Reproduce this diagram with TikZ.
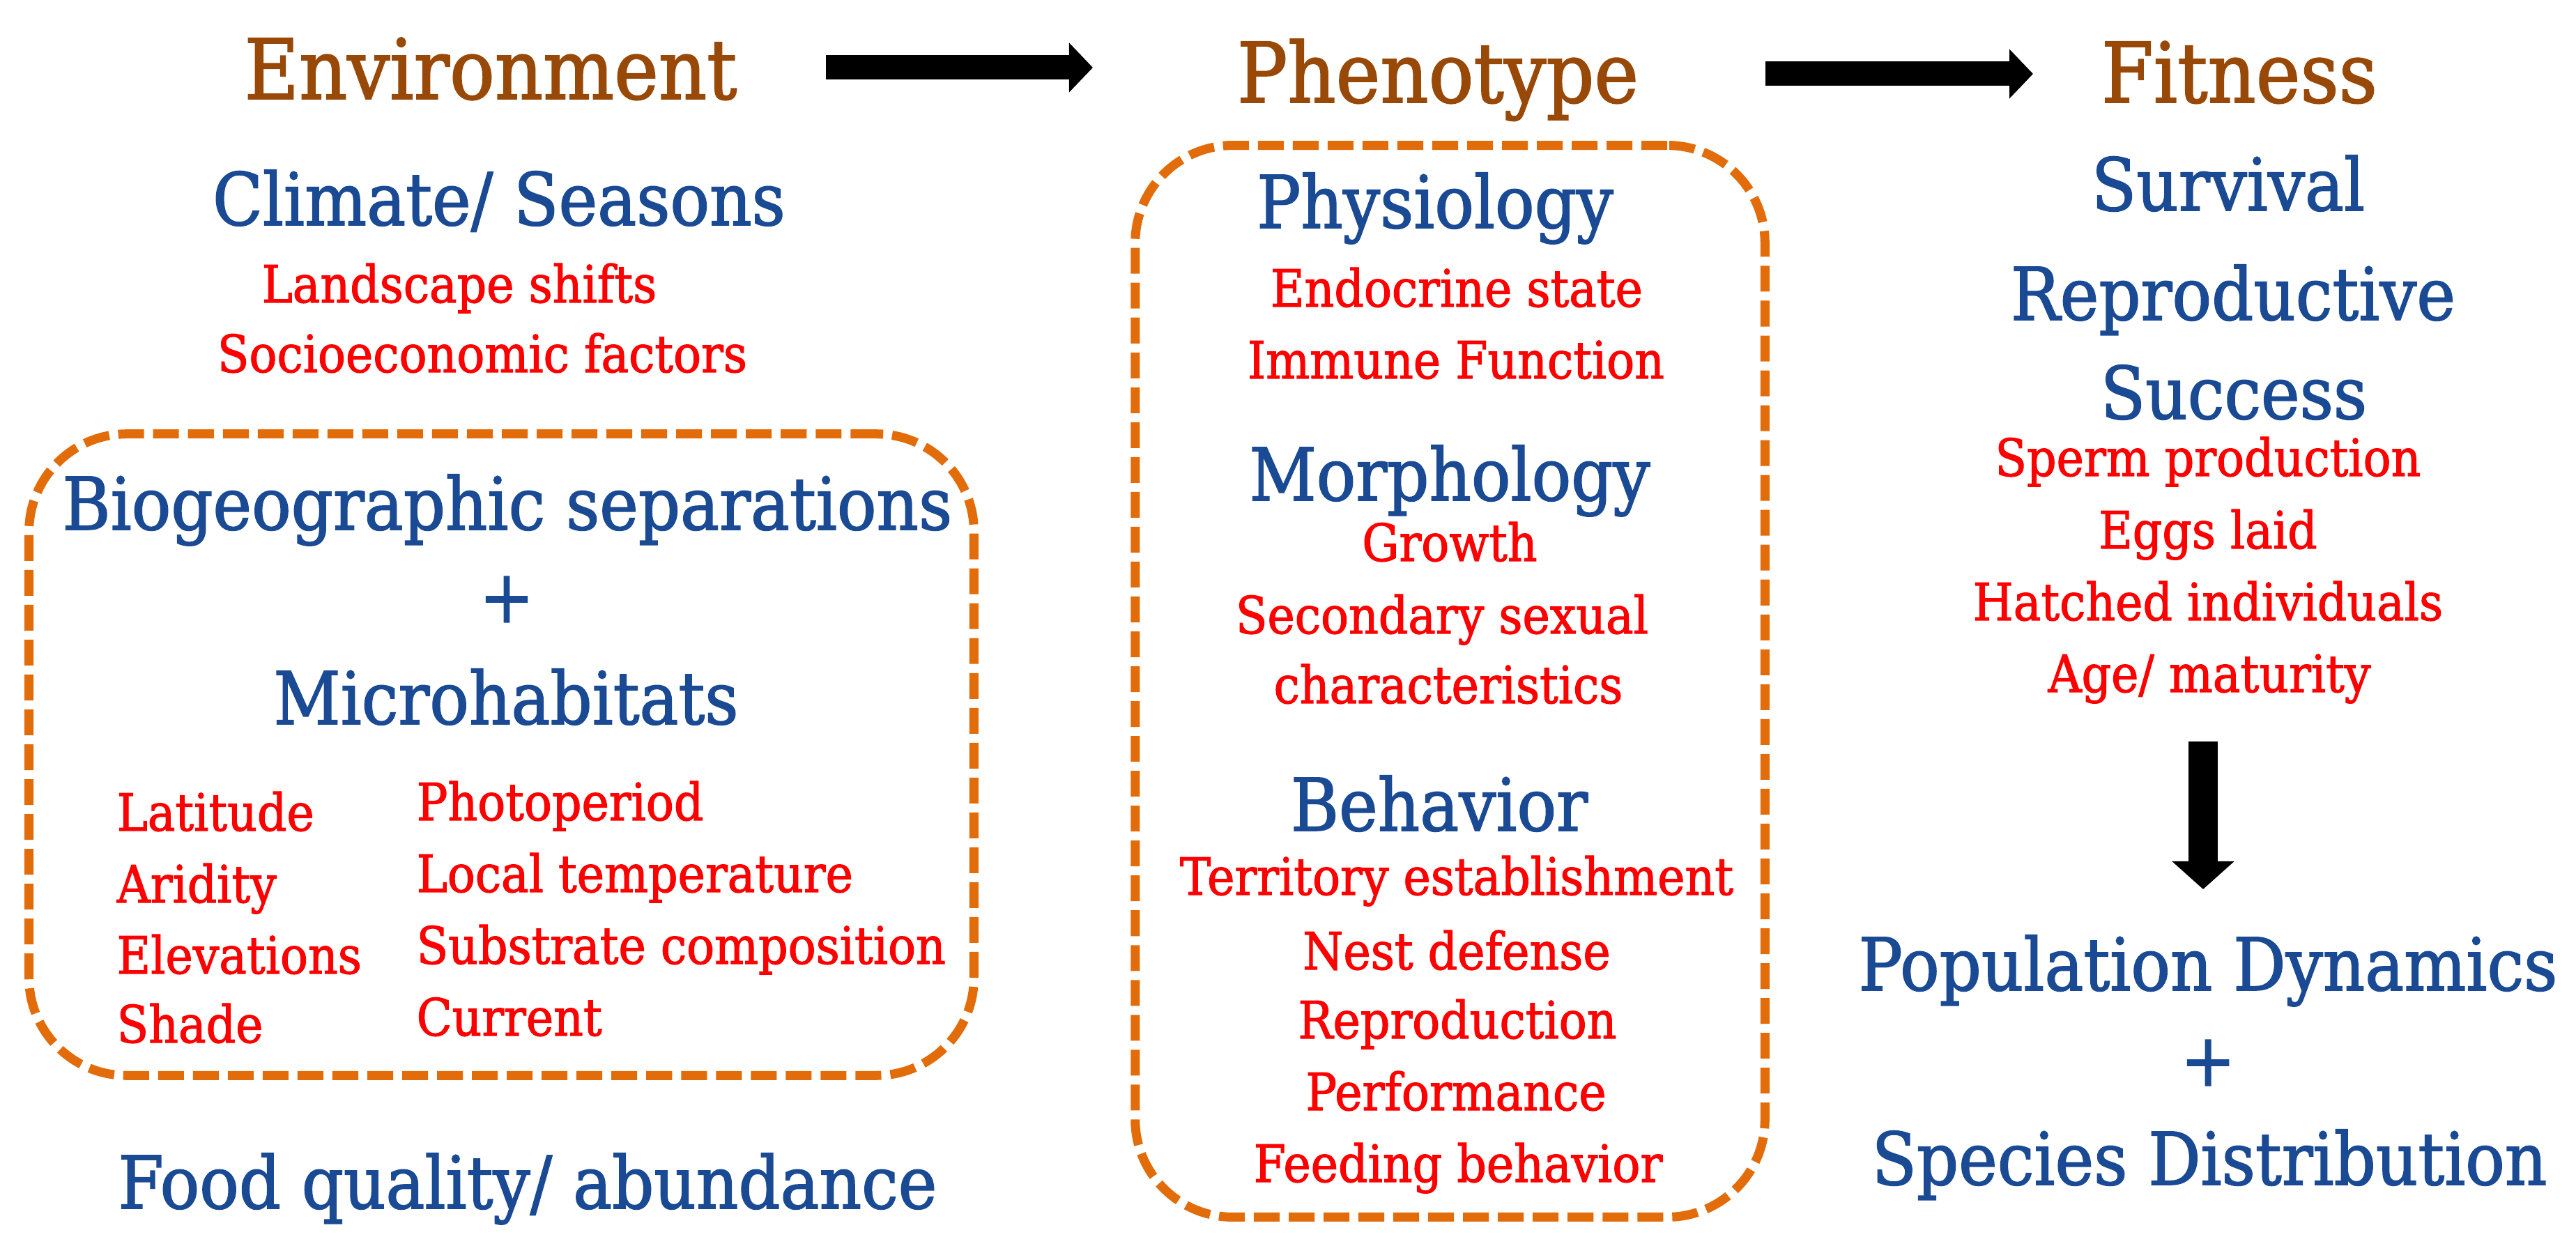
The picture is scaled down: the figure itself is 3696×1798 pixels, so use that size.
\documentclass[tikz,border=0pt]{standalone}
\usepackage{fontspec}
\setmainfont[FakeStretch=0.9, FakeBold=1.5]{DejaVu Serif}
\usetikzlibrary{arrows.meta}
\definecolor{titlebrown}{HTML}{984807}
\definecolor{headblue}{HTML}{1A4A93}
\definecolor{itemred}{HTML}{FF0000}
\definecolor{boxorange}{HTML}{E36C0A}

\begin{document}
\begin{tikzpicture}[x=0.01cm, y=-0.01cm,
  title/.style = {anchor=base, inner sep=0pt, text=titlebrown, font=\fontsize{34}{40}\selectfont},
  head/.style = {anchor=base, inner sep=0pt, text=headblue, font=\fontsize{29.7}{36}\selectfont},
  item/.style = {anchor=base, inner sep=0pt, text=itemred, font=\fontsize{21}{26}\selectfont},
  dashbox/.style = {draw=boxorange, line width=0.13cm, dash pattern=on 0.37cm off 0.13cm, rounded corners=1.4cm},
  bigarrow/.style = {line width=0.35cm, -{Triangle[length=0.34cm, width=0.69cm]}}]
  \useasboundingbox (0,0) rectangle (3696,1798);

  % boxes
  \node[dashbox, minimum width=13.55cm, minimum height=9.2cm] (envbox) at (719.5,1083) {};
  \node[dashbox, minimum width=9.03cm, minimum height=15.37cm] (phenobox) at (2080.5,977.5) {};

  % titles
  \node[title] (env) at (704,142) {Environment};
  \node[title] (pheno) at (2063,147) {Phenotype};
  \node[title] (fit) at (3213,147) {Fitness};

  % environment
  \node[head] (climate) at (716,323) {Climate/ Seasons};
  \node[item] (landscape) at (659,434) {Landscape shifts};
  \node[item] (socio) at (692,534) {Socioeconomic factors};
  \node[head] (biogeo) at (728,760) {Biogeographic separations};
  \node[head, anchor=center] (plusa) at (727,860) {+};
  \node[head] (micro) at (726,1039) {Microhabitats};
  \node[item, anchor=base west] (lat) at (167,1192) {Latitude};
  \node[item, anchor=base west] (arid) at (167,1295) {Aridity};
  \node[item, anchor=base west] (elev) at (167,1397) {Elevations};
  \node[item, anchor=base west] (shade) at (167,1496) {Shade};
  \node[item, anchor=base west] (photo) at (597,1177) {Photoperiod};
  \node[item, anchor=base west] (temp) at (597,1280) {Local temperature};
  \node[item, anchor=base west] (subst) at (597,1383) {Substrate composition};
  \node[item, anchor=base west] (curr) at (597,1486) {Current};
  \node[head] (food) at (757,1734) {Food quality/ abundance};

  % phenotype
  \node[head] (physio) at (2059,327) {Physiology};
  \node[item] (endo) at (2090,440) {Endocrine state};
  \node[item] (immune) at (2089,543) {Immune Function};
  \node[head] (morph) at (2080,718) {Morphology};
  \node[item] (growth) at (2080,805) {Growth};
  \node[item] (secsex) at (2069,909) {Secondary sexual};
  \node[item] (charac) at (2078,1009) {characteristics};
  \node[head] (behav) at (2065,1192) {Behavior};
  \node[item] (terr) at (2090,1284) {Territory establishment};
  \node[item] (nest) at (2090,1391) {Nest defense};
  \node[item] (repro) at (2091,1490) {Reproduction};
  \node[item] (perf) at (2089,1593) {Performance};
  \node[item] (feed) at (2092,1696) {Feeding behavior};

  % fitness
  \node[head] (surv) at (3197,302) {Survival};
  \node[head] (reprod) at (3204,459) {Reproductive};
  \node[head] (success) at (3205,601) {Success};
  \node[item] (sperm) at (3168,683) {Sperm production};
  \node[item] (eggs) at (3168,787) {Eggs laid};
  \node[item] (hatched) at (3168,890) {Hatched individuals};
  \node[item] (age) at (3170,993) {Age/ maturity};
  \node[head] (popdyn) at (3168,1421) {Population Dynamics};
  \node[head, anchor=center] (plusb) at (3168,1525) {+};
  \node[head] (species) at (3170,1700) {Species Distribution};

  % arrows
  \coordinate (envout) at (1185,97);
  \coordinate (phenoin) at (1568,97);
  \coordinate (phenoout) at (2533,106);
  \coordinate (fitin) at (2917,106);
  \coordinate (ageout) at (3161,1064);
  \coordinate (popin) at (3161,1276);
  \draw[bigarrow] (envout) -- (phenoin);
  \draw[bigarrow] (phenoout) -- (fitin);
  \draw[bigarrow, line width=0.42cm, -{Triangle[length=0.40cm, width=0.87cm]}] (ageout) -- (popin);
\end{tikzpicture}
\end{document}
